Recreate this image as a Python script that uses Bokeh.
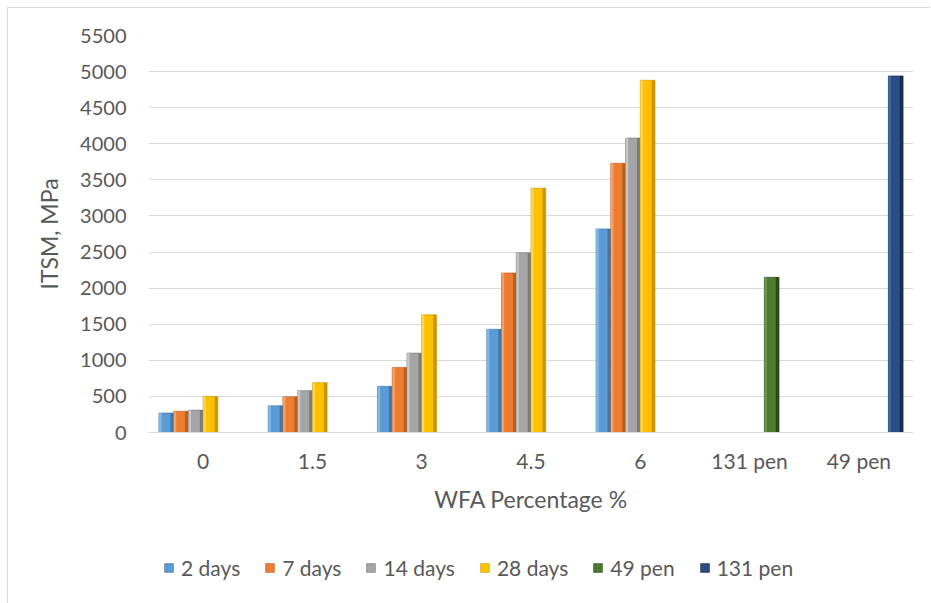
from bokeh.plotting import figure
from bokeh.layouts import column
from bokeh.models import (FactorRange, Range1d, ColumnDataSource, Legend,
                          LegendItem, FixedTicker)
from bokeh.transform import dodge
from bokeh.embed import file_html
from bokeh.resources import INLINE

nan = float("nan")

# ---- data ----
categories = ["0", "1.5", "3", "4.5", "6", "131 pen", "49 pen"]
days_2 = [270, 370, 640, 1430, 2820, nan, nan]
days_7 = [295, 495, 900, 2210, 3730, nan, nan]
days_14 = [310, 580, 1100, 2490, 4080, nan, nan]
days_28 = [500, 690, 1630, 3385, 4880, nan, nan]
pen_49 = [nan, nan, nan, nan, nan, 2150, nan]
pen_131 = [nan, nan, nan, nan, nan, nan, 4940]
series_names = ["2 days", "7 days", "14 days", "28 days", "49 pen", "131 pen"]
series_values = [days_2, days_7, days_14, days_28, pen_49, pen_131]
y_ticks = [0, 500, 1000, 1500, 2000, 2500, 3000, 3500, 4000, 4500, 5000, 5500]

# ---- style ----
base_cols = ["#5B9BD5", "#ED7D31", "#A5A5A5", "#FFC000", "#4E7A2F", "#2A4D85"]
light_cols = ["#86B8E6", "#F4A067", "#C6C6C6", "#FFD54A", "#6A9746", "#40669F"]
dark_cols = ["#3E77AD", "#BE5E1D", "#7C7C7C", "#C89600", "#2C4719", "#172C50"]
FONT = "Lato"
TXT = "#595959"

data = {"cat": categories}
for i, v in enumerate(series_values):
    data[f"s{i}"] = v
src = ColumnDataSource(data)

p = figure(x_range=FactorRange(*categories), y_range=Range1d(0, 5500),
           width=922, height=532, output_backend="svg", toolbar_location=None,
           min_border_left=140, min_border_right=17, min_border_top=27,
           min_border_bottom=108)

W = 0.135
renderers = []
for i in range(6):
    off = (i - 2.5) * W
    r = p.vbar(x=dodge("cat", off, range=p.x_range), top=f"s{i}", bottom=0,
               width=W, fill_color=base_cols[i], line_color=dark_cols[i],
               line_width=0.6, source=src)
    renderers.append(r)
    p.vbar(x=dodge("cat", off - W / 2 + 0.013, range=p.x_range), top=f"s{i}",
           bottom=0, width=0.022, fill_color=light_cols[i], line_color=None,
           source=src)
    p.vbar(x=dodge("cat", off + W / 2 - 0.016, range=p.x_range), top=f"s{i}",
           bottom=0, width=0.028, fill_color=dark_cols[i], line_color=None,
           source=src)

p.outline_line_color = None
p.xgrid.grid_line_color = None
p.ygrid.grid_line_color = "#d9d9d9"
p.ygrid.grid_line_width = 1
p.ygrid.level = "underlay"

p.yaxis.ticker = FixedTicker(ticks=y_ticks)
p.yaxis.axis_line_color = None
p.yaxis.major_tick_line_color = None
p.yaxis.minor_tick_line_color = None
p.yaxis.major_label_standoff = 16
p.yaxis.axis_label = "ITSM, MPa"
p.yaxis.axis_label_standoff = 14
p.yaxis.major_label_text_font_size = "20px"

p.xaxis.axis_line_color = "#d9d9d9"
p.xaxis.major_tick_line_color = None
p.xaxis.minor_tick_line_color = None
p.xaxis.major_label_standoff = 9
p.xaxis.axis_label = "WFA Percentage %"
p.xaxis.axis_label_standoff = 9
p.xaxis.major_label_text_font_size = "21px"

for ax in (p.xaxis[0], p.yaxis[0]):
    ax.major_label_text_font = FONT
    ax.major_label_text_color = TXT
    ax.axis_label_text_font = FONT
    ax.axis_label_text_font_size = "23px"
    ax.axis_label_text_font_style = "normal"
    ax.axis_label_text_color = TXT

# ---- legend strip (separate small canvas below the chart) ----
lg = figure(width=922, height=63, output_backend="svg", toolbar_location=None,
            x_range=FactorRange(*series_names), y_range=Range1d(0, 1),
            min_border_left=140, min_border_right=17,
            min_border_top=0, min_border_bottom=0)
lg.axis.visible = False
lg.grid.visible = False
lg.outline_line_color = None
lg_items = []
for i, n in enumerate(series_names):
    rr = lg.vbar(x=[n], top=[0], width=0.1, fill_color=base_cols[i],
                 line_color=dark_cols[i], line_width=0.6, visible=False)
    lg_items.append(LegendItem(label=n, renderers=[rr]))

legend = Legend(items=lg_items, orientation="horizontal", location=(15, 23),
                glyph_width=11, glyph_height=11, label_standoff=7, spacing=24,
                padding=0, margin=0, border_line_color=None,
                background_fill_alpha=0, inactive_fill_alpha=0,
                label_text_font=FONT,
                label_text_font_size="21px", label_text_color=TXT)
lg.add_layout(legend, "center")

layout = column(p, lg, spacing=0)
layout.styles = {"margin-left": "7px", "margin-top": "7px",
                 "border-left": "1px solid #d9d9d9",
                 "border-top": "1px solid #d9d9d9"}

open("out.html", "w").write(file_html(layout, INLINE))
